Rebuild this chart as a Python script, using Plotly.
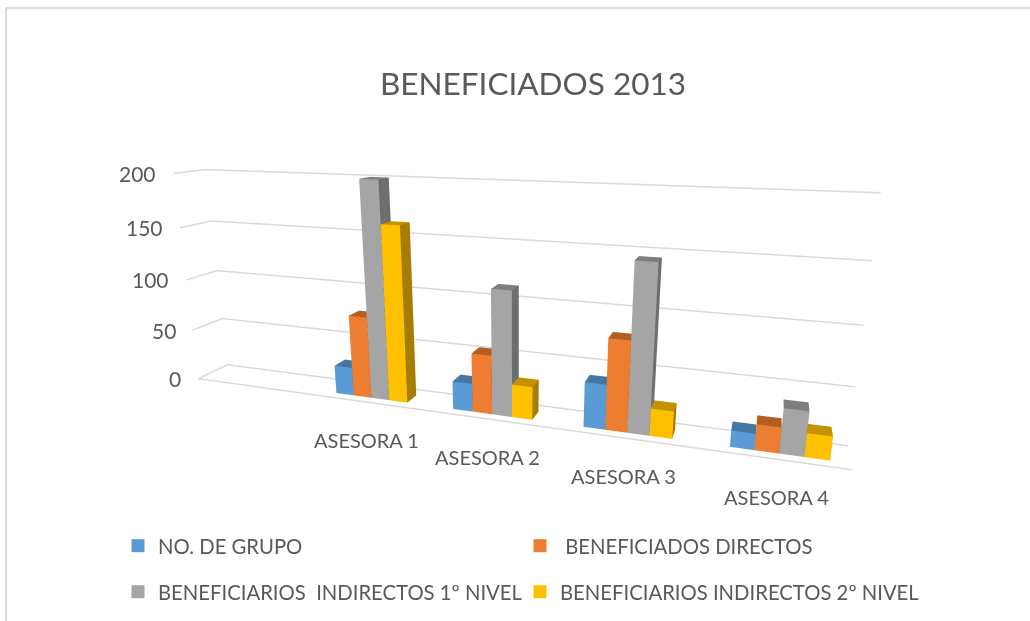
import plotly.graph_objects as go

categories = ["ASESORA 1", "ASESORA 2", "ASESORA 3", "ASESORA 4"]
series_names = ["NO. DE GRUPO", " BENEFICIADOS DIRECTOS", "BENEFICIARIOS  INDIRECTOS 1º NIVEL", "BENEFICIARIOS INDIRECTOS 2º NIVEL"]
no_grupo = [27, 26, 40, 14]
directos = [77, 54, 80, 22]
indirectos_1 = [200, 113, 145, 38]
indirectos_2 = [162, 30, 24, 20]
tick_vals = [0, 50, 100, 150, 200]
front_colors = ["#5B9BD5", "#ED7D31", "#A5A5A5", "#FFC000"]
top_colors = ["#4677A3", "#B55E24", "#7E7E7E", "#C39200"]
side_colors = ["#3F6C95", "#A85520", "#6E6E6E", "#A67D00"]
GRID = "#D9D9D9"
TEXT = "#595959"

eye = dict(x=0.3708, y=-0.9752, z=0.2764)
center = dict(x=0.0393, y=0.0098, z=-0.0147)
ay, az = 0.0718, 0.3366

GROUP_W = 0.62
GROUP_OFFSET = 0.255
DEPTH = (0.25, 0.68)
X_RANGE = (0, 5)
Y_RANGE = (0, 1)
Z_RANGE = (tick_vals[0], tick_vals[-1])
PAD = 0.1  # extra scene room on every side so edge lines are not clipped
series = [no_grupo, directos, indirectos_1, indirectos_2]


def padded(rng):
    span = rng[1] - rng[0]
    return [rng[0] - PAD * span, rng[1] + PAD * span]


fig = go.Figure()

gx, gy, gz = [], [], []
for v in tick_vals:
    gx += [X_RANGE[0], X_RANGE[0], X_RANGE[1], None]
    gy += [Y_RANGE[0], Y_RANGE[1], Y_RANGE[1], None]
    gz += [v, v, v, None]
gx += [X_RANGE[0], X_RANGE[1]]
gy += [Y_RANGE[0], Y_RANGE[0]]
gz += [tick_vals[0], tick_vals[0]]
fig.add_trace(go.Scatter3d(x=gx, y=gy, z=gz, mode="lines", line=dict(color=GRID, width=3), showlegend=False, hoverinfo="skip"))

for s, (name, vals_s) in enumerate(zip(series_names, series)):
    X, Y, Z, I, J, K, C = [], [], [], [], [], [], []
    bw = GROUP_W / 4
    for c_i, val in enumerate(vals_s):
        x0 = c_i + 1 + GROUP_OFFSET + s * bw
        x1 = x0 + bw
        b = len(X)
        for zz in (0, val):
            for yy in DEPTH:
                for xx in (x0, x1):
                    X.append(xx); Y.append(yy); Z.append(zz)
        faces = [((0, 1, 5), front_colors), ((0, 5, 4), front_colors),
                 ((4, 5, 7), top_colors), ((4, 7, 6), top_colors),
                 ((1, 3, 7), side_colors), ((1, 7, 5), side_colors)]
        for (a, b2, c2), pal in faces:
            I.append(b + a); J.append(b + b2); K.append(b + c2); C.append(pal[s])
    fig.add_trace(go.Mesh3d(x=X, y=Y, z=Z, i=I, j=J, k=K, facecolor=C, flatshading=True, showlegend=False, hoverinfo="skip",
                            lighting=dict(ambient=1, diffuse=0, specular=0, roughness=1, fresnel=0),
                            lightposition=dict(x=0, y=0, z=1000)))
    fig.add_trace(go.Scatter3d(x=[None], y=[None], z=[None], mode="markers", name=name, showlegend=True,
                               legend="legend" if s < 2 else "legend2",
                               marker=dict(symbol="square", size=13, color=front_colors[s])))

anns = []
for v in tick_vals:
    anns.append(dict(x=0, y=0, z=v, text=str(v), showarrow=False, xanchor="right", yanchor="middle", xshift=-15,
                     font=dict(family="Lato", size=21, color=TEXT)))
for i, cat in enumerate(categories):
    anns.append(dict(x=i + 1.5, y=0, z=0, text=cat, showarrow=False, xanchor="center", yanchor="middle", xshift=8, yshift=-39,
                     font=dict(family="Lato", size=20, color=TEXT)))

hidden = dict(visible=False, showgrid=False, zeroline=False, showspikes=False, showbackground=False)
legend_style = dict(orientation="h", x=118 / 1030, xanchor="left", yanchor="middle",
                    entrywidth=357, entrywidthmode="pixels", font=dict(family="Lato", size=20.3, color=TEXT),
                    bgcolor="rgba(0,0,0,0)")
scale = 1 + 2 * PAD
fig.update_layout(
    width=1030, height=621, margin=dict(l=0, r=0, t=0, b=0), paper_bgcolor="white",
    title=dict(text="BENEFICIADOS 2013", x=533 / 1030, y=1 - 84 / 621, xanchor="center", yanchor="middle",
               font=dict(family="Lato", size=31.5, color=TEXT)),
    legend=dict(y=1 - 546 / 621, **legend_style),
    legend2=dict(y=1 - 592 / 621, **legend_style),
    scene=dict(domain=dict(x=[0, 1], y=[0, 1]), aspectmode="manual",
               aspectratio=dict(x=scale, y=ay * scale, z=az * scale),
               camera=dict(eye=eye, center=center, up=dict(x=0, y=0, z=1), projection=dict(type="perspective")),
               xaxis=dict(range=padded(X_RANGE), **hidden),
               yaxis=dict(range=padded(Y_RANGE), **hidden),
               zaxis=dict(range=padded(Z_RANGE), **hidden),
               annotations=anns),
    shapes=[dict(type="line", xref="paper", yref="paper", x0=6 / 1030, x1=6 / 1030, y0=0, y1=1 - 8 / 621, line=dict(color=GRID, width=2)),
            dict(type="line", xref="paper", yref="paper", x0=6 / 1030, x1=1, y0=1 - 8 / 621, y1=1 - 8 / 621, line=dict(color=GRID, width=2))],
)
fig.write_html("out.html", config=dict(displayModeBar=False), post_script="document.body.style.margin='0';")
